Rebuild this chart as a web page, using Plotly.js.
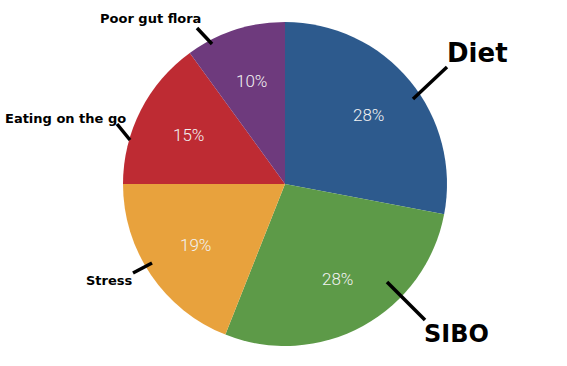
<!DOCTYPE html>
<html><head><meta charset="utf-8">
<script src="https://cdn.plot.ly/plotly-3.0.1.min.js"></script>
<style>html,body{margin:0;padding:0;background:#fff}#c{width:567px;height:366px}</style>
</head><body><div id="c"></div>
<script>
const categories = ["Diet", "SIBO", "Stress", "Eating on the go", "Poor gut flora"];
const values = [28, 28, 19, 15, 10];
const colors = ["#2D5A8D", "#5D9A48", "#E8A23D", "#BE2B33", "#6E3A7D"];

const W = 567, H = 366;
const px = x => x / W, py = y => 1 - y / H;
const CX = 285, CY = 184, R = 162;

// label placement (pixels) and leader lines: [x0,y0,x1,y1]
const labelSpec = [
  {text: "Diet", x: 477, y: 53, size: 26, line: [413, 99, 447, 67]},
  {text: "SIBO", x: 456, y: 334, size: 24, line: [387, 282, 425, 320]},
  {text: "Stress", x: 109, y: 280, size: 13, line: [152, 263, 133, 273]},
  {text: "Eating on the go", x: 65, y: 118, size: 13, line: [117, 124, 130, 140]},
  {text: "Poor gut flora", x: 150, y: 19, size: 13, line: [197, 28, 212, 44]}
];

const trace = {
  type: "pie",
  labels: categories,
  values: values,
  sort: false,
  direction: "clockwise",
  rotation: 0,
  marker: {colors: colors, line: {width: 0}},
  textinfo: "none",
  hoverinfo: "none",
  showlegend: false,
  domain: {x: [px(CX - R), px(CX + R)], y: [py(CY + R), py(CY - R)]}
};

// percentage labels placed at each slice's mid-angle, derived from the values
const total = values.reduce((a, b) => a + b, 0);
let cum = 0;
const pctAnn = values.map(v => {
  const mid = (cum + v / 2) / total * 2 * Math.PI;
  cum += v;
  const r = 0.67 * R;
  return {
    text: Math.round(v / total * 100) + "%",
    xref: "paper", yref: "paper",
    x: px(CX + r * Math.sin(mid)), y: py(CY - r * Math.cos(mid)),
    xanchor: "center", yanchor: "middle", showarrow: false,
    font: {family: "Roboto", size: 17, color: "#F2F2F2", weight: 300}
  };
});

const layout = {
  width: W, height: H,
  margin: {l: 0, r: 0, t: 0, b: 0},
  paper_bgcolor: "#fff",
  showlegend: false,
  shapes: labelSpec.map(s => ({
    type: "line", xref: "paper", yref: "paper",
    x0: px(s.line[0]), y0: py(s.line[1]), x1: px(s.line[2]), y1: py(s.line[3]),
    line: {color: "#000", width: 3.5}
  })),
  annotations: labelSpec.map(s => ({
    text: s.text, xref: "paper", yref: "paper",
    x: px(s.x), y: py(s.y), xanchor: "center", yanchor: "middle",
    showarrow: false,
    font: {family: "DejaVu Sans", size: s.size, color: "#000", weight: "bold"}
  })).concat(pctAnn)
};

Plotly.newPlot("c", [trace], layout, {displayModeBar: false, staticPlot: true});
</script></body></html>
